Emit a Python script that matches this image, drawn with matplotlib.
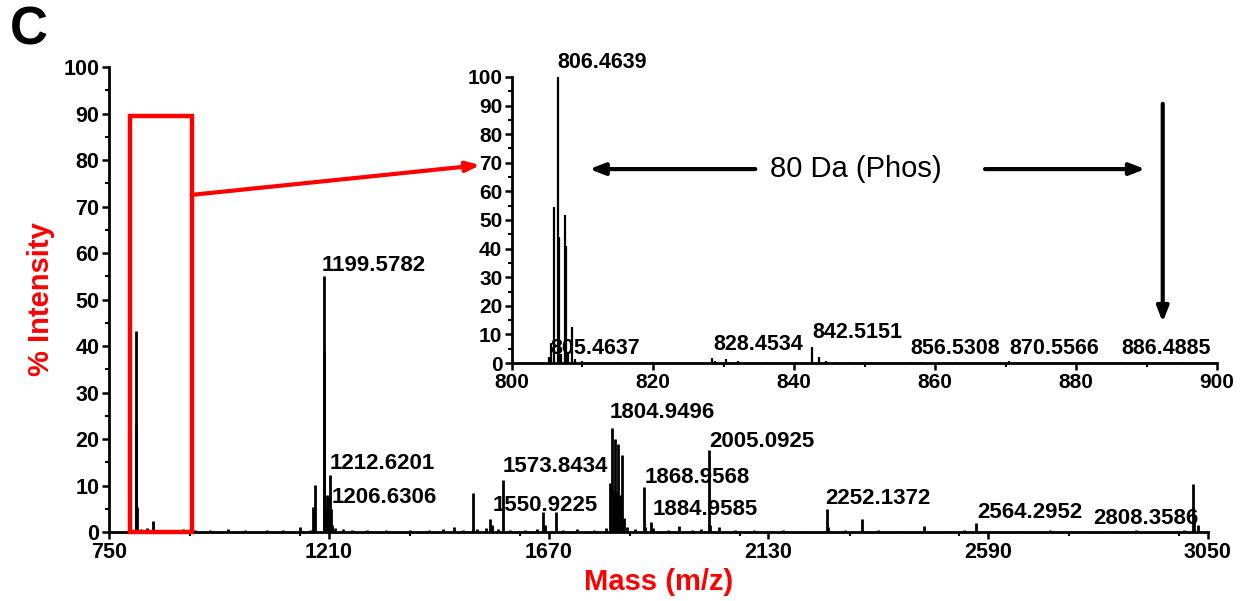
import matplotlib
matplotlib.use("Agg")
import matplotlib.pyplot as plt
from matplotlib.patches import Rectangle
from matplotlib.ticker import MultipleLocator

plt.rcParams['font.family'] = ['Liberation Sans', 'DejaVu Sans']

# full spectrum, m/z vs % intensity
main_mz = [805.9, 806.46, 807.5, 808.5, 817, 828.5, 842.5, 858, 872, 890, 905, 930,
           962, 1000, 1035, 1080, 1115, 1150, 1170, 1177, 1181, 1199.58, 1200.6,
           1202, 1204, 1206.63, 1208, 1210, 1212.62, 1214, 1216, 1222, 1240, 1258,
           1290, 1330, 1380, 1420, 1450, 1473, 1490, 1511, 1520, 1540, 1548, 1551,
           1565, 1573.84, 1590, 1620, 1645, 1659, 1662, 1686, 1700, 1730, 1765,
           1790, 1799, 1801, 1803, 1805, 1807, 1810, 1813, 1816, 1819, 1822, 1824,
           1828, 1835, 1850, 1868.96, 1872, 1884.96, 1888, 1920, 1943, 1970, 1990,
           2005.09, 2008, 2027, 2060, 2100, 2160, 2200, 2252.14, 2256, 2290, 2326,
           2360, 2400, 2456, 2500, 2540, 2564.3, 2600, 2660, 2720, 2780, 2850,
           2900, 2960, 3000, 3018, 3022, 3030]
main_int = [23.0, 43.3, 22.0, 5.3, 0.6, 0.8, 2.4, 0.4, 0.4, 0.3, 0.6, 0.4,
            0.5, 0.7, 0.4, 0.5, 0.4, 1.0, 0.4, 5.4, 10.1, 55.0, 39.0,
            5.0, 5.0, 8.0, 5.0, 7.5, 12.3, 5.0, 1.5, 0.8, 0.7, 0.4,
            0.5, 0.4, 0.5, 0.4, 0.6, 1.0, 0.5, 8.4, 0.6, 0.8, 2.8, 1.5,
            0.6, 11.2, 0.5, 0.4, 0.7, 4.3, 1.5, 4.3, 0.4, 0.6, 0.5,
            0.8, 10.5, 8.4, 22.4, 9.0, 8.5, 20.0, 8.5, 19.0, 8.0, 6.0, 16.5,
            3.0, 1.0, 0.6, 9.7, 1.0, 2.2, 0.8, 0.5, 1.2, 0.4, 0.6,
            17.6, 1.5, 1.0, 0.4, 0.5, 0.4, 0.3, 5.0, 1.0, 0.4, 2.8,
            0.4, 0.3, 1.2, 0.3, 0.4, 2.0, 0.3, 0.3, 0.4, 0.3, 0.3,
            0.4, 0.3, 0.5, 10.3, 3.0, 1.5]

main_labels = ['1199.5782', '1212.6201', '1206.6306', '1573.8434', '1550.9225',
               '1804.9496', '2005.0925', '1868.9568', '1884.9585', '2252.1372',
               '2564.2952', '2808.3586']
main_label_x = [1195, 1212, 1216, 1574, 1553, 1797, 2006, 1872, 1887, 2249, 2567, 2811]
main_label_y = [57.4, 14.8, 7.5, 14.0, 5.6, 25.6, 19.4, 11.8, 4.9, 7.3, 4.1, 3.0]

# zoomed region 800-900
zoom_mz = [805.2, 805.5, 805.9, 806.46, 806.6, 807.0, 807.5, 807.6, 808.0, 808.5,
           809, 810, 812, 815, 820, 828.3, 828.8, 830.3, 831, 832, 834, 836,
           842.6, 843.6, 844.5, 846, 848, 851, 856.5, 858, 863, 870.5, 876, 882,
           886.5, 890, 895]
zoom_int = [2.0, 7.0, 54.5, 100.0, 44.0, 3.0, 51.7, 41.0, 3.0, 12.6,
            1.5, 0.8, 0.5, 0.4, 0.3, 1.7, 0.8, 1.5, 0.5, 0.6, 0.4, 0.3,
            5.6, 2.0, 0.6, 0.4, 0.4, 0.4, 0.5, 0.3, 0.3, 0.6, 0.3, 0.3,
            0.4, 0.3, 0.3]

zoom_labels = ['806.4639', '805.4637', '828.4534', '842.5151', '856.5308',
               '870.5566', '886.4885']
zoom_label_x = [806.5, 805.5, 828.5, 842.6, 856.5, 870.6, 886.5]
zoom_label_y = [104.9, 5.2, 6.6, 10.5, 5.2, 5.2, 5.2]

RED = '#ff0000'

fig = plt.figure(figsize=(12.43, 6.01), dpi=100)
ax = fig.add_axes([0.0877, 0.1148, 0.884, 0.7737])
ax_in = fig.add_axes([0.4119, 0.396, 0.5672, 0.4759])


def style_axes(a, fs):
    for side in ['top', 'right']:
        a.spines[side].set_visible(False)
    for side in ['left', 'bottom']:
        a.spines[side].set_linewidth(2)
    a.tick_params(which='major', direction='out', length=5, width=1.8,
                  labelsize=fs, pad=2)
    a.tick_params(which='minor', direction='out', length=3, width=1.5)
    for lab in a.get_xticklabels() + a.get_yticklabels():
        lab.set_fontweight('bold')
    a.patch.set_alpha(0)


# main spectrum
ax.vlines(main_mz, 0, main_int, color='black', lw=2)
ax.set_xlim(750, 3050)
ax.set_ylim(0, 100)
ax.set_xticks([750, 1210, 1670, 2130, 2590, 3050])
ax.xaxis.set_minor_locator(MultipleLocator(230))
ax.set_yticks(range(0, 101, 10))
ax.yaxis.set_minor_locator(MultipleLocator(5))
style_axes(ax, 15.5)
ax.set_xlabel('Mass (m/z)', color=RED, fontsize=21, fontweight='bold', labelpad=4)
ax.set_ylabel('% Intensity', color=RED, fontsize=21, fontweight='bold', labelpad=6)
for t, x, y in zip(main_labels, main_label_x, main_label_y):
    ax.text(x, y, t, fontsize=16, fontweight='bold', ha='left', va='center')

ax.add_patch(Rectangle((794, 0), 129, 89.5, fill=False, edgecolor=RED, lw=3.2,
                       clip_on=False, zorder=5))

# inset
ax_in.vlines(zoom_mz, 0, zoom_int, color='black', lw=1.6)
ax_in.set_xlim(800, 900)
ax_in.set_ylim(0, 100)
ax_in.set_xticks(range(800, 901, 20))
ax_in.xaxis.set_minor_locator(MultipleLocator(10))
ax_in.set_yticks(range(0, 101, 10))
ax_in.yaxis.set_minor_locator(MultipleLocator(5))
style_axes(ax_in, 15)
for t, x, y in zip(zoom_labels, zoom_label_x, zoom_label_y):
    ax_in.text(x, y, t, fontsize=15.5, fontweight='bold', ha='left', va='center',
               clip_on=False)

ax_in.text(848.8, 67.8, '80 Da (Phos)', fontsize=21, ha='center', va='center')
arrow_kw = dict(arrowstyle='-|>,head_length=0.9,head_width=0.35', color='black', lw=3)
ax_in.annotate('', xy=(810.6, 67.8), xytext=(834.9, 67.8), arrowprops=arrow_kw)
ax_in.annotate('', xy=(890.2, 67.8), xytext=(866.7, 67.8), arrowprops=arrow_kw)
ax_in.annotate('', xy=(892.3, 13.3), xytext=(892.3, 91.6), arrowprops=arrow_kw)

# red connector from box to inset
ax_in.annotate('', xy=(795.5, 69.2), xycoords='data',
               xytext=(923, 72.5), textcoords=ax.transData,
               arrowprops=dict(arrowstyle='-|>,head_length=0.8,head_width=0.3',
                               color=RED, lw=3, shrinkA=0, shrinkB=0),
               annotation_clip=False)

fig.text(0.008, 0.95, 'C', fontsize=38, fontweight='bold', ha='left', va='center')

fig.savefig('out.png', dpi=100)
